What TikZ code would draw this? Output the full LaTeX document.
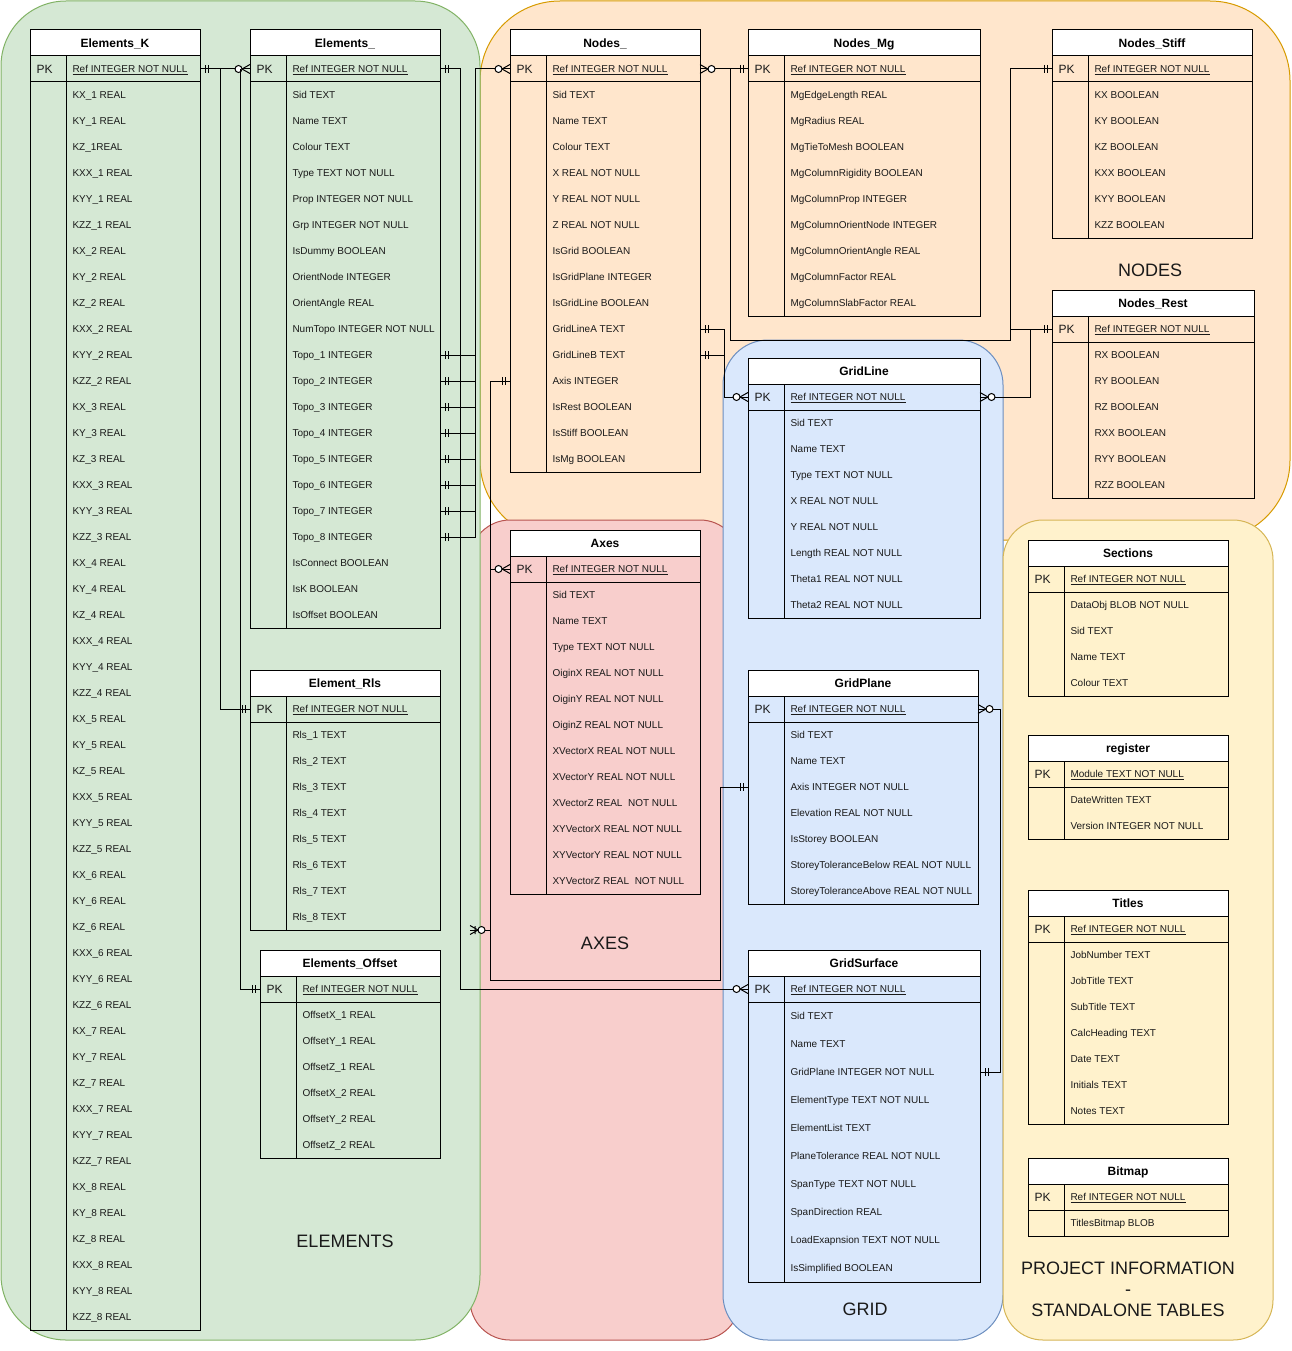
\documentclass[tikz,border=0pt]{standalone}
\usepackage{fontspec}
\setmainfont{Liberation Sans}
\usetikzlibrary{arrows.meta}

% Crow's-foot cardinality tips
\pgfdeclarearrow{
  name = ER one,
  setup code = {
    \pgfarrowssettipend{0pt}
    \pgfarrowssetlineend{0pt}
    \pgfarrowssetbackend{-9pt}
    \pgfarrowssetvisualbackend{-9pt}
    \pgfarrowshullpoint{0pt}{4pt}
    \pgfarrowshullpoint{0pt}{-4pt}
    \pgfarrowshullpoint{-9pt}{4pt}
    \pgfarrowshullpoint{-9pt}{-4pt}
  },
  drawing code = {
    \pgfsetdash{}{0pt}
    \pgfpathmoveto{\pgfqpoint{-5pt}{4pt}}
    \pgfpathlineto{\pgfqpoint{-5pt}{-4pt}}
    \pgfpathmoveto{\pgfqpoint{-8pt}{4pt}}
    \pgfpathlineto{\pgfqpoint{-8pt}{-4pt}}
    \pgfusepathqstroke
  }
}
\pgfdeclarearrow{
  name = ER zero many,
  setup code = {
    \pgfarrowssettipend{0pt}
    \pgfarrowssetlineend{0pt}
    \pgfarrowssetbackend{-16pt}
    \pgfarrowssetvisualbackend{-16pt}
    \pgfarrowshullpoint{0pt}{5pt}
    \pgfarrowshullpoint{0pt}{-5pt}
    \pgfarrowshullpoint{-16pt}{4pt}
    \pgfarrowshullpoint{-16pt}{-4pt}
  },
  drawing code = {
    \pgfsetdash{}{0pt}
    \pgfpathmoveto{\pgfqpoint{0pt}{4.5pt}}
    \pgfpathlineto{\pgfqpoint{-8pt}{0pt}}
    \pgfpathlineto{\pgfqpoint{0pt}{-4.5pt}}
    \pgfusepathqstroke
    \pgfsetfillcolor{white}
    \pgfpathcircle{\pgfqpoint{-11.5pt}{0pt}}{3.5pt}
    \pgfusepathqfillstroke
  }
}
% crow's foot with bar and ring
\pgfdeclarearrow{
  name = ER bar zero many,
  setup code = {
    \pgfarrowssettipend{0pt}
    \pgfarrowssetlineend{0pt}
    \pgfarrowssetbackend{-16pt}
    \pgfarrowssetvisualbackend{-16pt}
    \pgfarrowshullpoint{0pt}{5pt}
    \pgfarrowshullpoint{0pt}{-5pt}
    \pgfarrowshullpoint{-16pt}{4pt}
    \pgfarrowshullpoint{-16pt}{-4pt}
  },
  drawing code = {
    \pgfsetdash{}{0pt}
    \pgfpathmoveto{\pgfqpoint{0pt}{4.5pt}}
    \pgfpathlineto{\pgfqpoint{-8pt}{0pt}}
    \pgfpathlineto{\pgfqpoint{0pt}{-4.5pt}}
    \pgfpathmoveto{\pgfqpoint{-5pt}{4pt}}
    \pgfpathlineto{\pgfqpoint{-5pt}{-4pt}}
    \pgfusepathqstroke
    \pgfsetfillcolor{white}
    \pgfpathcircle{\pgfqpoint{-11.5pt}{0pt}}{3.5pt}
    \pgfusepathqfillstroke
  }
}

\definecolor{grnfill}{HTML}{D5E8D4}\definecolor{grnline}{HTML}{82B366}
\definecolor{orgfill}{HTML}{FFE6CC}\definecolor{orgline}{HTML}{D79B00}
\definecolor{redfill}{HTML}{F8CECC}\definecolor{redline}{HTML}{B85450}
\definecolor{blufill}{HTML}{DAE8FC}\definecolor{bluline}{HTML}{6C8EBF}
\definecolor{yelfill}{HTML}{FFF2CC}\definecolor{yelline}{HTML}{D6B656}
\definecolor{ink}{HTML}{1A1A1A}

\tikzset{
  rowbox/.style={inner sep=0pt, outer sep=0pt, minimum height=26},
  tbl/.style={draw=black, line width=1pt},
  hdrtxt/.style={inner sep=0pt, font=\bfseries\fontsize{12}{14}\selectfont, text=black},
  pktxt/.style={inner sep=0pt, font=\fontsize{12}{14}\selectfont, text=ink},
  fieldtxt/.style={inner sep=0pt, font=\fontsize{10}{12}\selectfont, text=ink},
  grplabel/.style={inner sep=0pt, font=\fontsize{18}{21}\selectfont, text=ink, align=center},
  conn/.style={draw=black, line width=1pt},
}

% #1 name, #2 left, #3 top, #4 width, #5 title, #6 key field,
% #7 row height, #8 number of fields, #9 fields
\newcommand{\ertable}[9]{%
  \node[rowbox, tbl, fill=white, minimum width=#4, anchor=north west] (#1-h) at (#2,#3) {};
  \node[hdrtxt, anchor=base] at ([yshift=-4.3]#1-h.center) {#5};
  \pgfmathsetmacro{\erbottom}{#3+52+#8*#7}
  \draw[tbl] (#2,#3+26) rectangle (#2+#4,\erbottom);
  \draw[tbl] (#2+36,#3+26) -- (#2+36,\erbottom);
  \node[rowbox, minimum width=#4, anchor=north west] (#1-pk) at (#2,#3+26) {};
  \draw[tbl] (#1-pk.south west) -- (#1-pk.south east);
  \node[pktxt, anchor=base west] at ([xshift=6,yshift=-4.3]#1-pk.west) {PK};
  \node[fieldtxt, anchor=base west] at ([xshift=42,yshift=-3.6]#1-pk.west) {\underline{#6}};
  \foreach \erfield [count=\eri] in {#9} {
    \node[rowbox, minimum width=#4, minimum height=#7, anchor=north west]
      (#1-r\eri) at (#2,#3+52+#7*\eri-#7) {};
    \node[fieldtxt, anchor=base west] at ([xshift=42,yshift=-3.6]#1-r\eri.west) {\erfield};
  }
}

\begin{document}
\begin{tikzpicture}[x=1pt, y=-1pt, line width=1pt]
\useasboundingbox (0,0) rectangle (1292,1351);

% ---------- subject areas ----------
\draw[fill=orgfill, draw=orgline, rounded corners=80] (480,1) rectangle (1290,540);
\draw[fill=redfill, draw=redline, rounded corners=40] (470,520) rectangle (740,1340);
\draw[fill=grnfill, draw=grnline, rounded corners=65] (1,1) rectangle (480,1340);
\draw[fill=blufill, draw=bluline, rounded corners=45] (723,340) rectangle (1003,1340);
\draw[fill=yelfill, draw=yelline, rounded corners=40] (1003,520) rectangle (1273,1340);

\node[grplabel] (lblel) at (345,1241) {ELEMENTS};
\node[grplabel] (lblnd) at (1150,270) {NODES};
\node[grplabel] (lblax) at (605,943) {AXES};
\node[grplabel] (lblgr) at (865,1309) {GRID};
\node[grplabel] (lblpr) at (1128,1289) {PROJECT INFORMATION\\-\\STANDALONE TABLES};

% ---------- tables ----------
\ertable{ek}{30}{30}{170}{Elements\_K}{Ref INTEGER NOT NULL}{26}{48}{%
KX\_1 REAL, KY\_1 REAL, KZ\_1REAL, KXX\_1 REAL, KYY\_1 REAL, KZZ\_1 REAL,
KX\_2 REAL, KY\_2 REAL, KZ\_2 REAL, KXX\_2 REAL, KYY\_2 REAL, KZZ\_2 REAL,
KX\_3 REAL, KY\_3 REAL, KZ\_3 REAL, KXX\_3 REAL, KYY\_3 REAL, KZZ\_3 REAL,
KX\_4 REAL, KY\_4 REAL, KZ\_4 REAL, KXX\_4 REAL, KYY\_4 REAL, KZZ\_4 REAL,
KX\_5 REAL, KY\_5 REAL, KZ\_5 REAL, KXX\_5 REAL, KYY\_5 REAL, KZZ\_5 REAL,
KX\_6 REAL, KY\_6 REAL, KZ\_6 REAL, KXX\_6 REAL, KYY\_6 REAL, KZZ\_6 REAL,
KX\_7 REAL, KY\_7 REAL, KZ\_7 REAL, KXX\_7 REAL, KYY\_7 REAL, KZZ\_7 REAL,
KX\_8 REAL, KY\_8 REAL, KZ\_8 REAL, KXX\_8 REAL, KYY\_8 REAL, KZZ\_8 REAL}

\ertable{el}{250}{30}{190}{Elements\_}{Ref INTEGER NOT NULL}{26}{21}{%
Sid TEXT, Name TEXT, Colour TEXT, Type TEXT NOT NULL, Prop INTEGER NOT NULL,
Grp INTEGER NOT NULL, IsDummy BOOLEAN, OrientNode INTEGER, OrientAngle REAL,
NumTopo INTEGER NOT NULL, Topo\_1 INTEGER, Topo\_2 INTEGER, Topo\_3 INTEGER,
Topo\_4 INTEGER, Topo\_5 INTEGER, Topo\_6 INTEGER, Topo\_7 INTEGER, Topo\_8 INTEGER,
IsConnect BOOLEAN, IsK BOOLEAN, IsOffset BOOLEAN}

\ertable{rls}{250}{670}{190}{Element\_Rls}{Ref INTEGER NOT NULL}{26}{8}{%
Rls\_1 TEXT, Rls\_2 TEXT, Rls\_3 TEXT, Rls\_4 TEXT, Rls\_5 TEXT, Rls\_6 TEXT,
Rls\_7 TEXT, Rls\_8 TEXT}

\ertable{off}{260}{950}{180}{Elements\_Offset}{Ref INTEGER NOT NULL}{26}{6}{%
OffsetX\_1 REAL, OffsetY\_1 REAL, OffsetZ\_1 REAL, OffsetX\_2 REAL, OffsetY\_2 REAL,
OffsetZ\_2 REAL}

\ertable{nd}{510}{30}{190}{Nodes\_}{Ref INTEGER NOT NULL}{26}{15}{%
Sid TEXT, Name TEXT, Colour TEXT, X REAL NOT NULL, Y REAL NOT NULL, Z REAL NOT NULL,
IsGrid BOOLEAN, IsGridPlane INTEGER, IsGridLine BOOLEAN, GridLineA TEXT,
GridLineB TEXT, Axis INTEGER, IsRest BOOLEAN, IsStiff BOOLEAN, IsMg BOOLEAN}

\ertable{mg}{748}{30}{232}{Nodes\_Mg}{Ref INTEGER NOT NULL}{26}{9}{%
MgEdgeLength REAL, MgRadius REAL, MgTieToMesh BOOLEAN, MgColumnRigidity BOOLEAN,
MgColumnProp INTEGER, MgColumnOrientNode INTEGER, MgColumnOrientAngle REAL,
MgColumnFactor REAL, MgColumnSlabFactor REAL}

\ertable{st}{1052}{30}{200}{Nodes\_Stiff}{Ref INTEGER NOT NULL}{26}{6}{%
KX BOOLEAN, KY BOOLEAN, KZ BOOLEAN, KXX BOOLEAN, KYY BOOLEAN, KZZ BOOLEAN}

\ertable{rs}{1052}{290}{202}{Nodes\_Rest}{Ref INTEGER NOT NULL}{26}{6}{%
RX BOOLEAN, RY BOOLEAN, RZ BOOLEAN, RXX BOOLEAN, RYY BOOLEAN, RZZ BOOLEAN}

\ertable{ax}{510}{530}{190}{Axes}{Ref INTEGER NOT NULL}{26}{12}{%
Sid TEXT, Name TEXT, Type TEXT NOT NULL, OiginX REAL NOT NULL, OiginY REAL NOT NULL,
OiginZ REAL NOT NULL, XVectorX REAL NOT NULL, XVectorY REAL NOT NULL,
XVectorZ REAL~ NOT NULL, XYVectorX REAL NOT NULL, XYVectorY REAL NOT NULL,
XYVectorZ REAL~ NOT NULL}

\ertable{gl}{748}{358}{232}{GridLine}{Ref INTEGER NOT NULL}{26}{8}{%
Sid TEXT, Name TEXT, Type TEXT NOT NULL, X REAL NOT NULL, Y REAL NOT NULL,
Length REAL NOT NULL, Theta1 REAL NOT NULL, Theta2 REAL NOT NULL}

\ertable{gp}{748}{670}{230}{GridPlane}{Ref INTEGER NOT NULL}{26}{7}{%
Sid TEXT, Name TEXT, Axis INTEGER NOT NULL, Elevation REAL NOT NULL, IsStorey BOOLEAN,
StoreyToleranceBelow REAL NOT NULL, StoreyToleranceAbove REAL NOT NULL}

\ertable{gs}{748}{950}{232}{GridSurface}{Ref INTEGER NOT NULL}{28}{10}{%
Sid TEXT, Name TEXT, GridPlane INTEGER NOT NULL, ElementType TEXT NOT NULL,
ElementList TEXT, PlaneTolerance REAL NOT NULL, SpanType TEXT NOT NULL,
SpanDirection REAL, LoadExapnsion TEXT NOT NULL, IsSimplified BOOLEAN}

\ertable{sec}{1028}{540}{200}{Sections}{Ref INTEGER NOT NULL}{26}{4}{%
DataObj BLOB NOT NULL, Sid TEXT, Name TEXT, Colour TEXT}

\ertable{reg}{1028}{735}{200}{register}{Module TEXT NOT NULL}{26}{2}{%
DateWritten TEXT, Version INTEGER NOT NULL}

\ertable{tit}{1028}{890}{200}{Titles}{Ref INTEGER NOT NULL}{26}{7}{%
JobNumber TEXT, JobTitle TEXT, SubTitle TEXT, CalcHeading TEXT, Date TEXT,
Initials TEXT, Notes TEXT}

\ertable{bmp}{1028}{1158}{200}{Bitmap}{Ref INTEGER NOT NULL}{26}{1}{%
TitlesBitmap BLOB}

% ---------- relationships ----------
% elements
\draw[conn, {ER one}-{ER zero many}] (ek-pk.east) -- (el-pk.west);
\coordinate (kbrA) at (220,69);
\coordinate (kbrB) at (240,69);
\draw[conn, -{ER one}] (kbrA) |- (rls-pk.west);
\draw[conn, -{ER one}] (kbrB) |- (off-pk.west);
\draw[conn, {ER one}-{ER zero many}] (el-pk.east) -- (460,69) |- (gs-pk.west);

% element topology -> nodes
\coordinate (topobus) at (475,69);
\foreach \k in {11,...,17} \draw[conn, {ER one}-] (el-r\k.east) -| (topobus);
\draw[conn, {ER one}-{ER zero many}] (el-r18.east) -| (topobus) -- (nd-pk.west);

% nodes -> axes -> grid planes
\draw[conn, {ER one}-{ER zero many}] (nd-r12.west) -- (490,381) |- (ax-pk.west);
\coordinate (axbus) at (490,569);
\draw[conn, -{ER one}] (axbus) -- (490,980) -- (720,980) -- (720,787) -- (gp-r3.west);
\coordinate (axstub) at (470,930);
\draw[conn, -{ER bar zero many}] (490,930) -- (axstub);

% node extensions
\draw[conn, {ER zero many}-{ER one}] (nd-pk.east) -- (mg-pk.west);
\draw[conn, -{ER one}] (730,69) -- (730,340) -- (1010,340) -- (1010,69) -- (st-pk.west);
\draw[conn, -{ER one}] (1010,329) -- (rs-pk.west);

% grid lines
\draw[conn, {ER zero many}-] (gl-pk.east) -- (1030,397) -- (1030,329);
\draw[conn, {ER one}-{ER zero many}] (nd-r10.east) -- (724,329) |- (gl-pk.west);
\draw[conn, {ER one}-] (nd-r11.east) -- (724,355);

% grid surfaces -> grid planes
\draw[conn, {ER one}-{ER zero many}] (gs-r3.east) -- (1000,1072) |- (gp-pk.east);
\end{tikzpicture}
\end{document}
